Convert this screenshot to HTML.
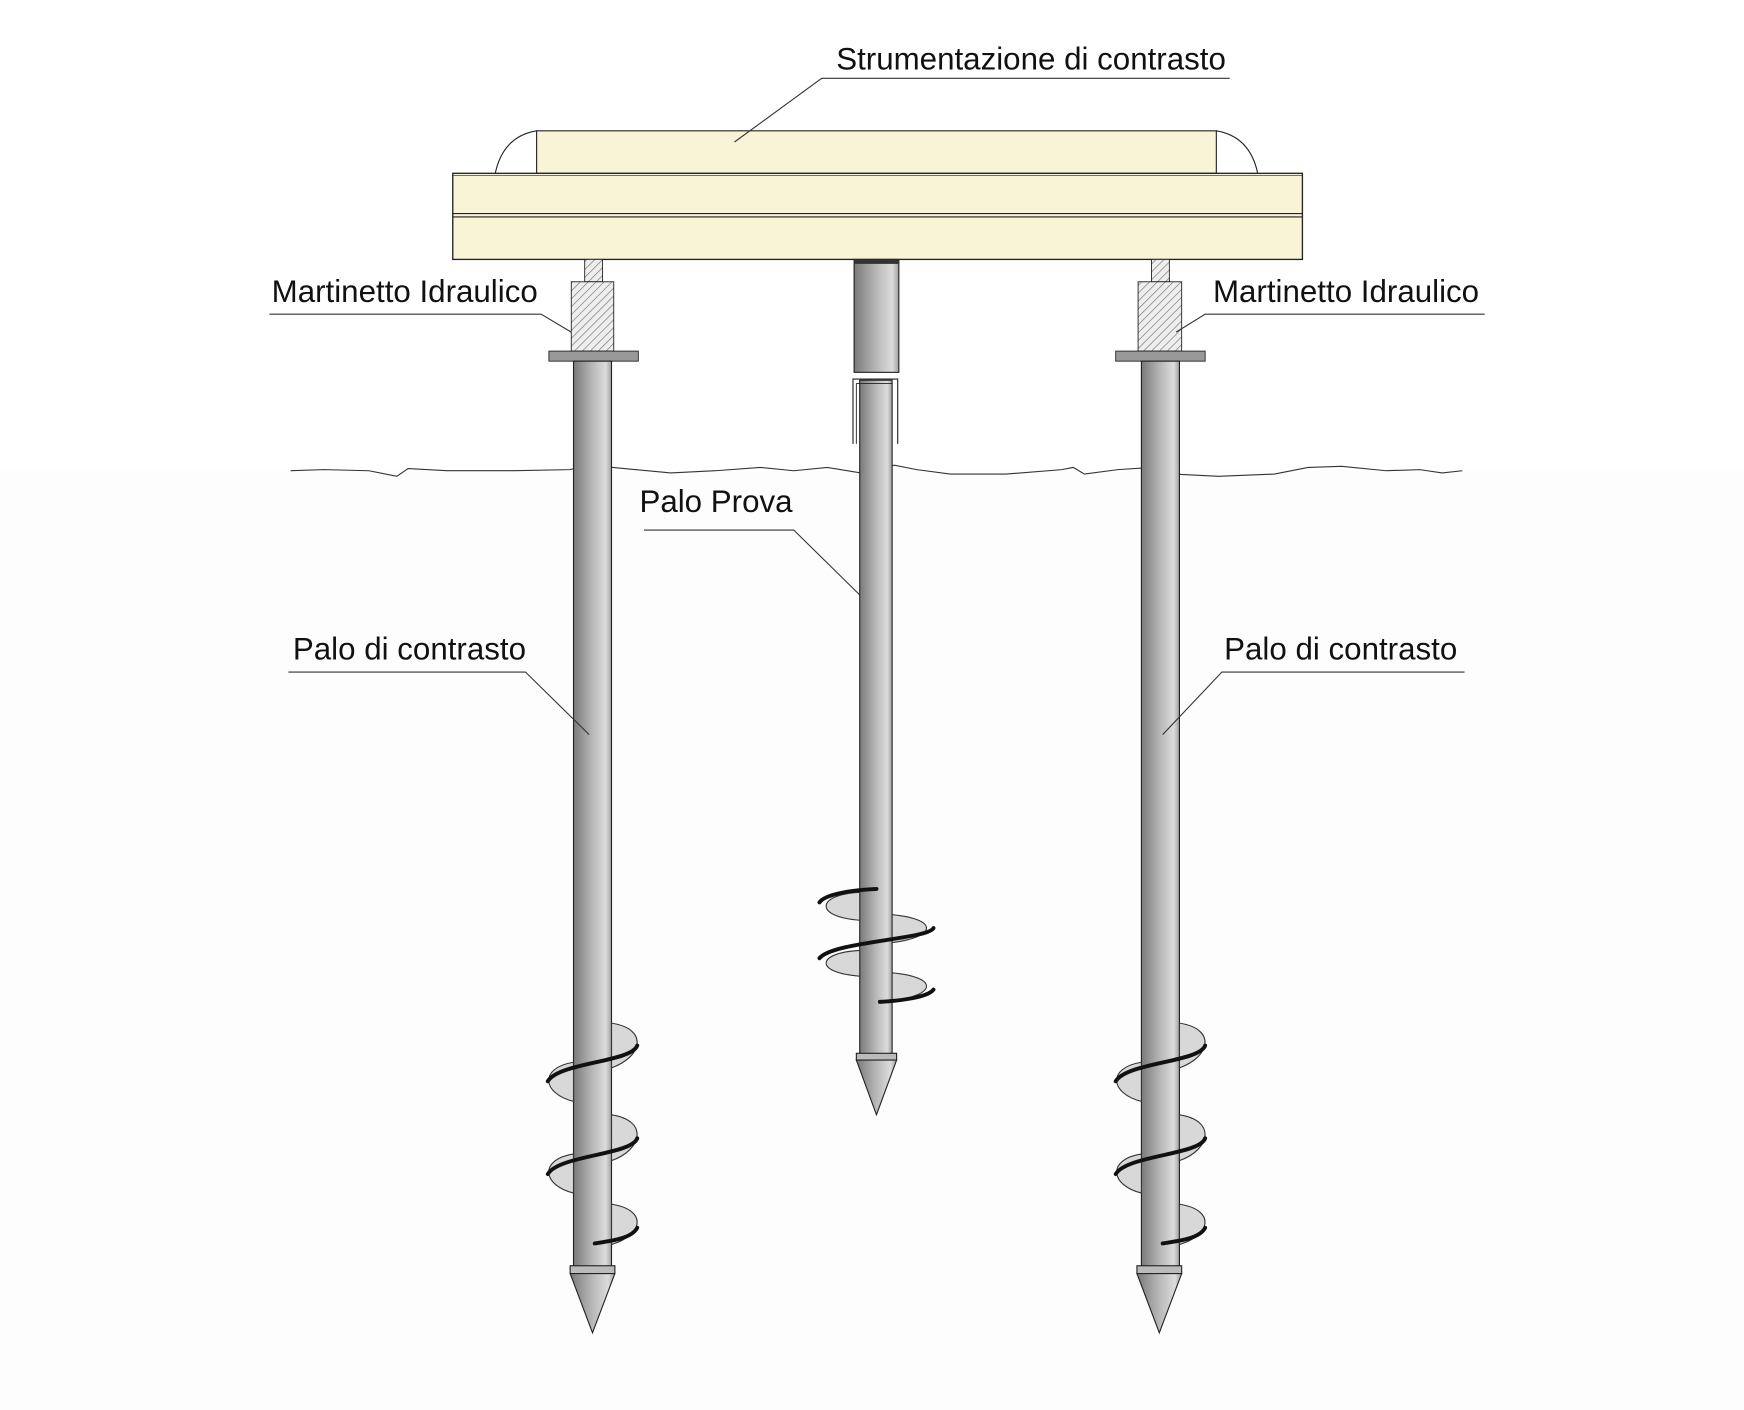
<!DOCTYPE html>
<html><head><meta charset="utf-8"><style>
html,body{margin:0;padding:0;background:#fff;}
svg{display:block;}
text{font-family:"Liberation Sans",Arial,sans-serif;font-size:28px;fill:#111;}
</style></head><body>
<svg width="1744" height="1410" viewBox="0 0 1560 1261" preserveAspectRatio="none" xmlns="http://www.w3.org/2000/svg">
<defs>
<linearGradient id="pg" x1="0" x2="1" y1="0" y2="0">
<stop offset="0" stop-color="#7a7a7a"/><stop offset="0.5" stop-color="#b8b8b8"/><stop offset="0.85" stop-color="#dcdcdc"/><stop offset="1" stop-color="#a0a0a0"/>
</linearGradient>
<pattern id="hat" width="5" height="5" patternUnits="userSpaceOnUse" patternTransform="rotate(45)">
<rect width="5" height="5" fill="#eee"/><line x1="0" y1="0" x2="0" y2="5" stroke="#777" stroke-width="1.2"/>
</pattern>
</defs>
<rect width="1560" height="1261" fill="#fff"/>
<rect x="0" y="421" width="1560" height="840" fill="#fdfdfd"/>

<polyline points="260,421 290,420 330,421 355,426 365,419 400,421 430,421 460,421 510,420 525,416 548,418 600,423 640,421 680,418 710,421 740,418 770,423 800,416 820,420 850,424 900,424 950,420 960,418 970,424 1000,420 1030,418 1050,424 1090,426 1140,424 1170,418 1200,417 1240,421 1270,420 1290,423 1308,421" fill="none" stroke="#333" stroke-width="1"/>

<path d="M443,155 Q450,122 480,117" fill="none" stroke="#222" stroke-width="1"/>
<path d="M1125,155 Q1118,122 1088,117" fill="none" stroke="#222" stroke-width="1"/>
<rect x="480" y="117" width="608" height="38" fill="#f9f4d6" stroke="#222" stroke-width="1"/>
<rect x="405" y="155" width="760" height="77" fill="#f9f4d6" stroke="#222" stroke-width="1.2"/>
<line x1="405" y1="191" x2="1165" y2="191" stroke="#222" stroke-width="1"/>
<line x1="405" y1="194" x2="1165" y2="194" stroke="#222" stroke-width="1"/>
<line x1="405" y1="157" x2="1165" y2="157" stroke="#222" stroke-width="0.6"/>

<rect x="523" y="232" width="16" height="20" fill="url(#hat)" stroke="#222" stroke-width="0.8"/>
<rect x="511" y="252" width="38" height="62" fill="url(#hat)" stroke="#222" stroke-width="0.8"/>
<rect x="491" y="314" width="80" height="9" fill="#999" stroke="#222" stroke-width="0.8"/>
<rect x="513" y="323" width="34" height="812" fill="url(#pg)" stroke="#222" stroke-width="1"/>
<rect x="1030" y="232" width="16" height="20" fill="url(#hat)" stroke="#222" stroke-width="0.8"/>
<rect x="1018" y="252" width="39" height="62" fill="url(#hat)" stroke="#222" stroke-width="0.8"/>
<rect x="998" y="314" width="80" height="9" fill="#999" stroke="#222" stroke-width="0.8"/>
<rect x="1021" y="323" width="34" height="812" fill="url(#pg)" stroke="#222" stroke-width="1"/>
<rect x="764" y="232" width="40" height="101" fill="url(#pg)" stroke="#222" stroke-width="1"/>
<rect x="764" y="232" width="40" height="4" fill="#333"/>
<rect x="769" y="340" width="29" height="605" fill="url(#pg)" stroke="#222" stroke-width="1"/>
<path d="M763,397 L763,339 L803,339 L803,397" fill="none" stroke="#222" stroke-width="1"/>
<path d="M766,397 L766,343 L798,343" fill="none" stroke="#222" stroke-width="0.8"/>

<g stroke="#222" stroke-width="1">
<rect x="510" y="1132" width="40" height="7" fill="#bbb"/>
<path d="M510,1139 L550,1139 L530,1192 Z" fill="url(#pg)"/>
<rect x="1017" y="1132" width="40" height="7" fill="#bbb"/>
<path d="M1017,1139 L1057,1139 L1037,1192 Z" fill="url(#pg)"/>
<rect x="766" y="942" width="36" height="6" fill="#bbb"/>
<path d="M766,948 L802,948 L784,997 Z" fill="url(#pg)"/>
</g>

<g fill="#d8d8d8" stroke="#333" stroke-width="1">
<path d="M547,915 C580,920 575,945 547,955 Z"/>
<path d="M547,997 C580,1002 575,1028 547,1038 Z"/>
<path d="M547,1077 C580,1082 575,1105 547,1113 Z"/>
<path d="M513,950 C482,955 485,978 513,985 Z"/>
<path d="M513,1032 C482,1037 485,1060 513,1067 Z"/>
<path d="M1055,915 C1088,920 1083,945 1055,955 Z"/>
<path d="M1055,997 C1088,1002 1083,1028 1055,1038 Z"/>
<path d="M1055,1077 C1088,1082 1083,1105 1055,1113 Z"/>
<path d="M1021,950 C990,955 993,978 1021,985 Z"/>
<path d="M1021,1032 C990,1037 993,1060 1021,1067 Z"/>
<path d="M769,798 C730,800 728,820 769,823 Z"/>
<path d="M769,850 C730,852 728,870 769,873 Z"/>
<path d="M798,818 C840,822 838,838 798,843 Z"/>
<path d="M798,870 C840,874 838,890 798,895 Z"/>
</g>
<g fill="none" stroke="#111" stroke-width="3.5" stroke-linecap="round">
<path d="M570,935 C565,950 500,950 490,967"/>
<path d="M570,1018 C565,1033 500,1033 490,1050"/>
<path d="M570,1098 C565,1108 545,1110 532,1112"/>
<path d="M1078,935 C1073,950 1008,950 998,967"/>
<path d="M1078,1018 C1073,1033 1008,1033 998,1050"/>
<path d="M1078,1098 C1073,1108 1053,1110 1040,1112"/>
<path d="M784,795 C760,796 738,800 733,807"/>
<path d="M835,830 C830,840 745,842 733,857"/>
<path d="M835,885 C830,892 805,895 787,896"/>
</g>

<g stroke="#333" stroke-width="1" fill="none">
<path d="M657,127 L735,70 L1100,70"/>
<path d="M241,281 L484,281 L511,297"/>
<path d="M1328,281 L1078,281 L1052,297"/>
<path d="M576,474 L710,474 L769,532"/>
<path d="M258,601 L470,601 L527,657"/>
<path d="M1310,601 L1093,601 L1040,657"/>
</g>
<text x="748" y="62">Strumentazione di contrasto</text>
<text x="243" y="270">Martinetto Idraulico</text>
<text x="1085" y="270">Martinetto Idraulico</text>
<text x="572" y="458">Palo Prova</text>
<text x="262" y="590">Palo di contrasto</text>
<text x="1095" y="590">Palo di contrasto</text>
</svg>
</body></html>
